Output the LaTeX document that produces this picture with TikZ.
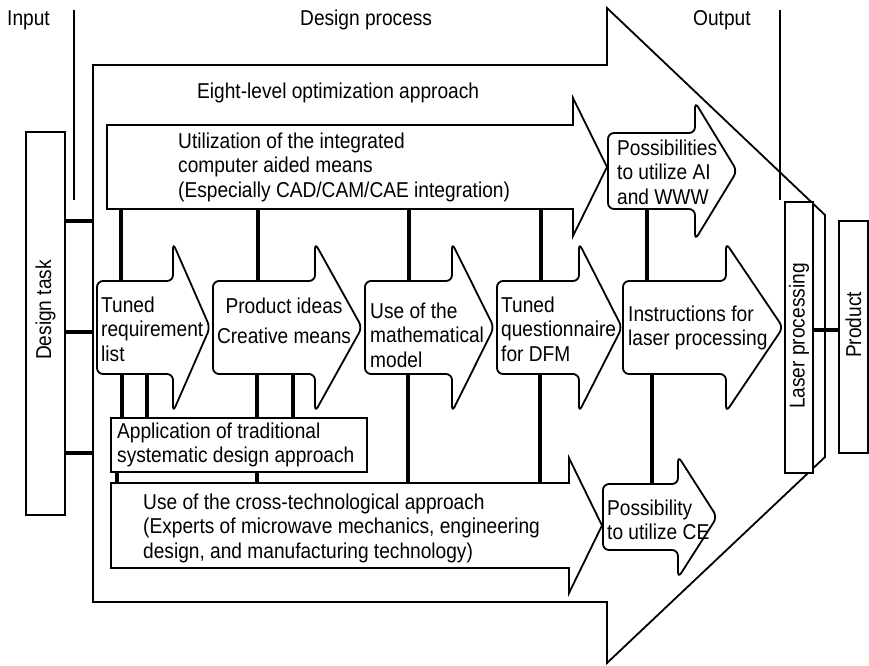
\documentclass[tikz,border=0pt]{standalone}
\usepackage{fontspec}
\setmainfont{Liberation Sans}[FakeStretch=0.89]
\usetikzlibrary{fit}
\tikzset{
  outline/.style={draw, line width=1.8pt, fill=white, line join=miter},
  rarrow/.style={outline, rounded corners=6pt},
  conn/.style={line width=4pt},
  lbl/.style={inner sep=0pt, font=\fontsize{21.5}{24.5}\selectfont, align=left},
  bodynode/.style={inner sep=0pt, draw=none, fill=none},
}
% #1 style, #2 name, #3 left, #4 top, #5 neck x, #6 bottom, #7 tip x, #8 head extension
\newcommand{\mkbarrow}[8]{%
  \draw[#1] (#3,{(#4+#6)/2}) -- (#3,#4) -- (#5,#4) -- (#5,{#4-#8}) -- (#7,{(#4+#6)/2}) -- (#5,{#6+#8}) -- (#5,#6) -- (#3,#6) -- cycle;
  \coordinate (#2-nw) at (#3,#4);
  \coordinate (#2-se) at (#5,#6);
  \node[bodynode, fit=(#2-nw)(#2-se)] (#2) {};
}
% #1 name, #2 x1, #3 y1, #4 x2, #5 y2
\newcommand{\mkbox}[5]{%
  \node[outline, inner sep=0pt, minimum width={#4-#2}, minimum height={#5-#3}] (#1) at ({(#2+#4)/2},{(#3+#5)/2}) {};
}
\begin{document}
\begin{tikzpicture}[x=1pt, y=-1pt]
\useasboundingbox (0,0) rectangle (869,665);

% big design-process arrow
\draw[outline] (93,65) -- (607,65) -- (607,8) -- (825,215) -- (825,457) -- (607,663) -- (607,602) -- (93,602) -- cycle;
\coordinate (dp-nw) at (93,65);
\coordinate (dp-se) at (607,602);
\node[bodynode, fit=(dp-nw)(dp-se)] (dp) {};

% input / output separators
\coordinate (in-top) at (74,10);
\coordinate (in-bot) at (74,200);
\draw[line width=1.8pt] (in-top) -- (in-bot);
\coordinate (out-top) at (780,10);
\coordinate (out-bot) at (780,200);
\draw[line width=1.8pt] (out-top) -- (out-bot);

% side boxes
\mkbox{dt}{26}{132}{65}{515}
\mkbox{lp}{785}{202}{813}{473}
\mkbox{pr}{839}{221}{868}{453}

% inner arrows
\mkbarrow{outline}{u}{107}{125}{573}{209}{607}{27}
\mkbarrow{rarrow}{pa}{608}{133}{695}{209}{737}{31}
\mkbarrow{rarrow}{r1}{97}{281}{173}{374}{210}{38}
\mkbarrow{rarrow}{r2}{213}{281}{315}{374}{362}{38}
\mkbarrow{rarrow}{r3}{365}{281}{452}{374}{494}{38}
\mkbarrow{rarrow}{r4}{497}{281}{579}{374}{622}{38}
\mkbarrow{rarrow}{r5}{623}{281}{726}{374}{783}{38}
\mkbarrow{outline}{ct}{111}{483}{569}{568}{602}{25}
\mkbarrow{rarrow}{ce}{603}{484}{678}{550}{717}{28}
\mkbox{app}{111}{418}{367}{472}

% x / y positions of the connectors
\coordinate (ya) at (0,221);
\coordinate (yb) at (0,332);
\coordinate (yc) at (0,453);
\coordinate (yd) at (0,330);
\coordinate (x1) at (121,0);
\coordinate (x2) at (258,0);
\coordinate (x3) at (409,0);
\coordinate (x4) at (541,0);
\coordinate (x5) at (647,0);
\coordinate (x6) at (122,0);
\coordinate (x7) at (147,0);
\coordinate (x8) at (257,0);
\coordinate (x9) at (293,0);
\coordinate (x10) at (408,0);
\coordinate (x11) at (540,0);
\coordinate (x12) at (652,0);
\coordinate (x13) at (117,0);

% connectors
\draw[conn] (dt.east |- ya) -- (dp.west |- ya);
\draw[conn] (dt.east |- yb) -- (dp.west |- yb);
\draw[conn] (dt.east |- yc) -- (dp.west |- yc);
\draw[conn] (lp.east |- yd) -- (pr.west |- yd);
\draw[conn] (u.south -| x1) -- (r1.north -| x1);
\draw[conn] (u.south -| x2) -- (r2.north -| x2);
\draw[conn] (u.south -| x3) -- (r3.north -| x3);
\draw[conn] (u.south -| x4) -- (r4.north -| x4);
\draw[conn] (pa.south -| x5) -- (r5.north -| x5);
\draw[conn] (r1.south -| x6) -- (app.north -| x6);
\draw[conn] (r1.south -| x7) -- (app.north -| x7);
\draw[conn] (r2.south -| x8) -- (app.north -| x8);
\draw[conn] (r2.south -| x9) -- (app.north -| x9);
\draw[conn] (r3.south -| x10) -- (ct.north -| x10);
\draw[conn] (r4.south -| x11) -- (ct.north -| x11);
\draw[conn] (r5.south -| x12) -- (ce.north -| x12);
\draw[conn] (app.south -| x13) -- (ct.north -| x13);
\draw[conn] (app.south -| x8) -- (ct.north -| x8);

% texts
\node[lbl, anchor=west] (t-in) at (7,20) {Input};
\node[lbl, anchor=west] (t-dp) at (300,20) {Design process};
\node[lbl, anchor=west] (t-out) at (693,20) {Output};
\node[lbl, anchor=west] (t-eight) at (197,93) {Eight-level optimization approach};
\node[lbl, anchor=west] (t-u) at (178,167) {Utilization of the integrated\\computer aided means\\(Especially CAD/CAM/CAE integration)};
\node[lbl, anchor=west] (t-pa) at (617,172) {Possibilities\\to utilize AI\\and WWW};
\node[lbl, anchor=west] (t-r1) at (101,329) {Tuned\\requirement\\list};
\node[lbl, align=center] (t-r2) at (284,321) {Product ideas\\[5pt]Creative means};
\node[lbl, anchor=west] (t-r3) at (370,335) {Use of the\\mathematical\\model};
\node[lbl, anchor=west] (t-r4) at (501,329) {Tuned\\questionnaire\\for DFM};
\node[lbl, anchor=west] (t-r5) at (628,328) {Instructions for\\laser processing};
\node[lbl, anchor=west] (t-app) at (117,445) {Application of traditional\\systematic design approach};
\node[lbl, anchor=west] (t-ct) at (143,528) {Use of the cross-technological approach\\(Experts of microwave mechanics, engineering\\design, and manufacturing technology)};
\node[lbl, anchor=west] (t-ce) at (607,520) {Possibility\\to utilize CE};
\node[lbl, rotate=90] (t-dt) at (45.5,310) {Design task};
\node[lbl, rotate=90] (t-lp) at (799,336) {Laser processing};
\node[lbl, rotate=90] (t-pr) at (853.5,325) {Product};
\end{tikzpicture}
\end{document}
